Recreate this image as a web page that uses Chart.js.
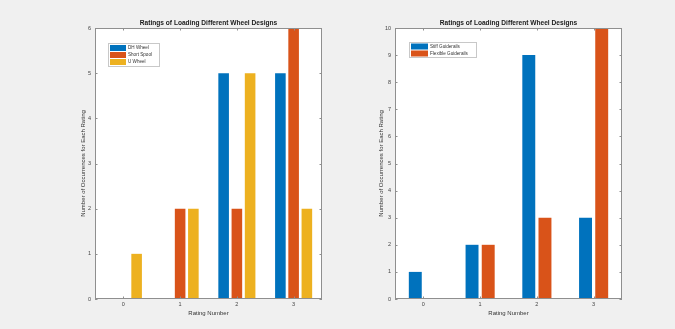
<!DOCTYPE html>
<html>
<head>
<meta charset="utf-8">
<script src="https://cdn.jsdelivr.net/npm/chart.js@4/dist/chart.umd.min.js"></script>
<style>
  html, body { margin: 0; padding: 0; background: #f0f0f0; }
  #wrap { position: relative; width: 675px; height: 329px; overflow: hidden; }
  canvas { position: absolute; top: 0; }
</style>
</head>
<body>
<div id="wrap">
  <canvas id="wheels" width="337" height="329" style="left:0"></canvas>
  <canvas id="rails" width="338" height="329" style="left:337px"></canvas>
</div>
<script>
// Rating categories shared by both panels
const ratings = ['0', '1', '2', '3'];

// Left panel: wheel designs
const dhWheel    = [0, 0, 5, 5];
const shortSpool = [0, 2, 2, 6];
const uWheel     = [1, 2, 5, 2];
const wheelTicks = [0, 1, 2, 3, 4, 5, 6];

// Right panel: guiderail designs
const stiffRails    = [1, 2, 9, 3];
const flexibleRails = [0, 2, 3, 10];
const railTicks     = [0, 1, 2, 3, 4, 5, 6, 7, 8, 9, 10];

const chartTitle = 'Ratings of Loading Different Wheel Designs';
const xTitle = 'Rating Number';
const yTitle = 'Number of Occurrences for Each Rating';

const BLUE = '#0072BD', ORANGE = '#D95319', YELLOW = '#EDB120';
const FONT = 'Liberation Sans, Arial, sans-serif';

// White axes background, MATLAB-style box with inward ticks, title centred on the axes, and an inset legend
const matlabAxes = {
  id: 'matlabAxes',
  beforeDatasetsDraw(chart) {
    const { ctx, chartArea: a } = chart;
    ctx.save();
    ctx.fillStyle = '#ffffff';
    ctx.fillRect(a.left, a.top, a.right - a.left, a.bottom - a.top);
    ctx.restore();
  },
  afterDatasetsDraw(chart, args, opts) {
    const { ctx, chartArea: a, scales } = chart;
    ctx.save();
    ctx.strokeStyle = '#8f8f8f';
    ctx.lineWidth = 1;
    ctx.strokeRect(a.left + 0.5, a.top + 0.5, a.right - a.left - 1, a.bottom - a.top - 1);
    const tl = 2.5;
    ctx.beginPath();
    scales.x.ticks.forEach((t, i) => {
      const x = Math.round(scales.x.getPixelForTick(i)) + 0.5;
      ctx.moveTo(x, a.bottom); ctx.lineTo(x, a.bottom - tl);
      ctx.moveTo(x, a.top); ctx.lineTo(x, a.top + tl);
    });
    scales.y.ticks.forEach(t => {
      const y = Math.round(scales.y.getPixelForValue(t.value)) + 0.5;
      ctx.moveTo(a.left, y); ctx.lineTo(a.left + tl, y);
      ctx.moveTo(a.right, y); ctx.lineTo(a.right - tl, y);
    });
    ctx.stroke();

    // axes title
    ctx.fillStyle = '#1a1a1a';
    ctx.font = 'bold 6.6px ' + FONT;
    ctx.textAlign = 'center';
    ctx.textBaseline = 'middle';
    ctx.fillText(opts.title, (a.left + a.right) / 2, a.top - 4.4);

    // inset legend
    const L = opts.legend;
    const sets = chart.data.datasets;
    const x0 = a.left + L.dx, y0 = a.top + L.dy;
    const h = L.pad * 2 + sets.length * L.row;
    ctx.fillStyle = '#ffffff';
    ctx.fillRect(x0, y0, L.width, h);
    ctx.strokeStyle = '#c8c8c8';
    ctx.strokeRect(x0 + 0.5, y0 + 0.5, L.width - 1, h - 1);
    ctx.font = L.fontSize + 'px ' + FONT;
    ctx.textBaseline = 'middle';
    ctx.textAlign = 'left';
    sets.forEach((ds, i) => {
      const cy = y0 + L.pad + i * L.row;
      ctx.fillStyle = ds.backgroundColor;
      ctx.fillRect(x0 + 2, cy + 0.5, L.swatch, L.row - 1);
      ctx.fillStyle = '#333333';
      ctx.fillText(ds.label, x0 + 4 + L.swatch, cy + L.row / 2);
    });
    ctx.restore();
  }
};

function buildOptions(cfg) {
  return {
    responsive: false,
    animation: false,
    devicePixelRatio: 1,
    layout: { padding: { left: 0, right: cfg.padRight, top: 28, bottom: 0 } },
    datasets: {
      bar: { categoryPercentage: cfg.groupWidth, barPercentage: 0.8 }
    },
    plugins: {
      legend: { display: false },
      tooltip: { enabled: false },
      title: { display: false },
      matlabAxes: { legend: cfg.legend, title: chartTitle }
    },
    scales: {
      x: {
        type: 'category',
        grid: { display: false, drawTicks: false },
        border: { display: false },
        ticks: { color: '#444', font: { family: FONT, size: 5.5 }, padding: 2.5 },
        title: {
          display: true, text: xTitle, color: '#333',
          font: { family: FONT, size: 6 }, padding: { top: 0, bottom: 12.4 }
        },
        afterFit(s) { s.height = 30; }
      },
      y: {
        min: 0, max: cfg.yMax,
        afterBuildTicks(s) { s.ticks = cfg.yTicks.map(v => ({ value: v })); },
        grid: { display: false, drawTicks: false },
        border: { display: false },
        ticks: { color: '#444', font: { family: FONT, size: 5.5 }, padding: 4 },
        title: {
          display: true, text: yTitle, color: '#333',
          font: { family: FONT, size: 6 }, padding: { top: cfg.yTitlePad, bottom: 0 }
        },
        afterFit(s) { s.width = cfg.axisWidth; }
      }
    }
  };
}

new Chart(document.getElementById('wheels'), {
  type: 'bar',
  data: {
    labels: ratings,
    datasets: [
      { label: 'DH Wheel', data: dhWheel, backgroundColor: BLUE },
      { label: 'Short Spool', data: shortSpool, backgroundColor: ORANGE },
      { label: 'U Wheel', data: uWheel, backgroundColor: YELLOW }
    ]
  },
  options: buildOptions({
    padRight: 15, axisWidth: 95, yTitlePad: 79.4, yMax: 6, yTicks: wheelTicks,
    groupWidth: 0.7,
    legend: { dx: 13, dy: 15, width: 52, row: 7, pad: 1.5, swatch: 16, fontSize: 4.6 }
  }),
  plugins: [matlabAxes]
});

new Chart(document.getElementById('rails'), {
  type: 'bar',
  data: {
    labels: ratings,
    datasets: [
      { label: 'Stiff Guiderails', data: stiffRails, backgroundColor: BLUE },
      { label: 'Flexible Guiderails', data: flexibleRails, backgroundColor: ORANGE }
    ]
  },
  options: buildOptions({
    padRight: 53, axisWidth: 58, yTitlePad: 40.4, yMax: 10, yTicks: railTicks,
    groupWidth: 0.57,
    legend: { dx: 14, dy: 14, width: 68, row: 7, pad: 1, swatch: 17, fontSize: 4.6 }
  }),
  plugins: [matlabAxes]
});
</script>
</body>
</html>
